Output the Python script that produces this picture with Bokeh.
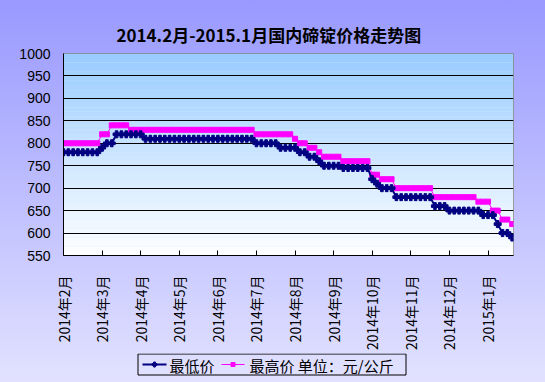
import numpy as np
from bokeh.plotting import figure
from bokeh.layouts import column
from bokeh.models import (FixedTicker, BoxAnnotation, Range1d, ColumnDataSource)
from bokeh.core.properties import value
from bokeh.embed import file_html
from bokeh.resources import INLINE

# ---------------- data ----------------
month_labels = ["2014年2月", "2014年3月", "2014年4月", "2014年5月", "2014年6月", "2014年7月",
                "2014年8月", "2014年9月", "2014年10月", "2014年11月", "2014年12月", "2015年1月"]
points_per_month = 8

# run-length encoded price series (value, number of consecutive observations)
low_values = [780, 790, 800, 820, 810, 800, 790, 780, 770, 760, 750, 745,
              720, 710, 700, 680, 660, 650, 640, 620, 600, 590]
low_counts = [8, 1, 2, 6, 23, 5, 4, 2, 2, 1, 4, 6,
              1, 1, 3, 8, 3, 7, 3, 1, 2, 1]
high_values = [800, 820, 840, 830, 820, 810, 800, 790, 780, 770, 760, 730,
               720, 700, 680, 670, 650, 630, 620]
high_counts = [8, 2, 4, 26, 8, 1, 2, 2, 1, 4, 6, 2,
               3, 8, 9, 3, 2, 2, 1]

y_ticks = [550, 600, 650, 700, 750, 800, 850, 900, 950, 1000]
legend_labels = ["最低价", "最高价  单位：元/公斤"]
title_text = "2014.2月-2015.1月国内碲锭价格走势图"

low_y = np.repeat(low_values, low_counts)
high_y = np.repeat(high_values, high_counts)
low_x = np.arange(len(low_y)) / points_per_month
high_x = np.arange(len(high_y)) / points_per_month

X_END = 11.66
Y0, Y1 = 550, 1000

LOW_COLOR = "#000080"
HIGH_COLOR = "#FF00FF"
CJK = "Noto Sans CJK SC"

W, H = 545, 353
ML, MR, MT, MB = 63, 32, 53, 93
LEG_H = 29

p = figure(width=W, height=H, output_backend="svg", toolbar_location=None,
           x_range=Range1d(0, X_END), y_range=Range1d(Y0, Y1),
           min_border_left=ML, min_border_right=MR, min_border_top=MT, min_border_bottom=MB,
           title=title_text)

p.border_fill_alpha = 0
p.background_fill_color = "#DDEEFF"
p.outline_line_color = "#808080"

# ---- plot area gradient (bands clipped to the frame) ----
for yb in range(Y0, Y1, 10):
    t = (Y1 - (yb + 5)) / (Y1 - Y0)
    c = (int(153 + 102 * t), int(204 + 51 * t), 255)
    col = "#%02x%02x%02x" % c
    p.add_layout(BoxAnnotation(left=0, right=X_END, bottom=yb, top=yb + 10.2,
                               fill_color=col, fill_alpha=1, line_alpha=0, level="image"))

# ---- series ----
src_low = ColumnDataSource(dict(x=low_x, y=low_y))
src_high = ColumnDataSource(dict(x=high_x, y=high_y))

p.line("x", "y", source=src_high, line_color=HIGH_COLOR, line_width=1)
p.scatter("x", "y", source=src_high, marker="square", size=5,
          fill_color=HIGH_COLOR, line_color=HIGH_COLOR)
p.line("x", "y", source=src_low, line_color=LOW_COLOR, line_width=2)
p.scatter("x", "y", source=src_low, marker="plus", size=7,
          fill_color=LOW_COLOR, line_color=LOW_COLOR)

# ---- axes ----
p.xaxis.ticker = FixedTicker(ticks=list(range(len(month_labels))))
p.xaxis.major_label_overrides = {i: s for i, s in enumerate(month_labels)}
p.xaxis.major_label_orientation = np.pi / 2
p.xaxis.major_label_text_font = CJK
p.xaxis.major_label_text_font_size = "14px"
p.xaxis.major_label_text_color = "black"
p.xaxis.major_tick_in = 5
p.xaxis.major_tick_out = 0
p.xaxis.minor_tick_line_color = None
p.xaxis.major_label_standoff = 20
p.xaxis.axis_line_color = "black"
p.xaxis.major_tick_line_color = "black"

p.yaxis.ticker = FixedTicker(ticks=y_ticks)
p.yaxis.major_label_text_font = "Liberation Sans"
p.yaxis.major_label_text_font_size = "14px"
p.yaxis.major_label_text_color = "black"
p.yaxis.major_tick_in = 0
p.yaxis.major_tick_out = 0
p.yaxis.minor_tick_line_color = None
p.yaxis.major_label_standoff = 13
p.yaxis.axis_line_color = "black"

p.xgrid.visible = False
p.ygrid.ticker = FixedTicker(ticks=y_ticks[1:-1])
p.ygrid.grid_line_color = "black"
p.ygrid.grid_line_width = 1

# ---- title ----
p.title.text_font = CJK
p.title.text_font_size = "17px"
p.title.text_font_style = "bold"
p.title.text_color = "black"
p.title.align = "left"
p.title.offset = 53
p.title.standoff = 14

# ---- legend strip: frame aligned with the chart's frame, x in page pixels ----
q = figure(width=W, height=LEG_H, output_backend="svg", toolbar_location=None,
           x_axis_location=None, y_axis_location=None,
           x_range=Range1d(ML, W - MR), y_range=Range1d(LEG_H, 0),
           min_border_left=ML, min_border_right=MR, min_border_top=0, min_border_bottom=0)
q.grid.visible = False
q.outline_line_color = None
q.background_fill_alpha = 0
q.border_fill_alpha = 0

cy = 11
q.quad(left=[137.5], right=[405.5], top=[0.5], bottom=[21.5],
       fill_alpha=0, line_color="black", line_width=1)
q.segment(x0=[142], y0=[cy], x1=[166], y1=[cy], line_color=LOW_COLOR, line_width=2)
q.scatter(x=[154], y=[cy], marker="plus", size=5, fill_color=LOW_COLOR, line_color=LOW_COLOR)
q.segment(x0=[221], y0=[cy], x1=[244], y1=[cy], line_color=HIGH_COLOR, line_width=1)
q.scatter(x=[232.5], y=[cy], marker="square", size=4, fill_color=HIGH_COLOR, line_color=HIGH_COLOR)
q.text(x=[169, 249], y=[cy + 0.5, cy + 0.5], text=legend_labels,
       text_font=value(CJK), text_font_size="15px", text_color="black",
       text_baseline="middle", text_align="left")

layout = column(p, q, spacing=0)
layout.styles = {"background": "linear-gradient(to bottom, #9999FF 0%, #E2E2FF 100%)"}

open("out.html", "w").write(file_html(layout, INLINE))
